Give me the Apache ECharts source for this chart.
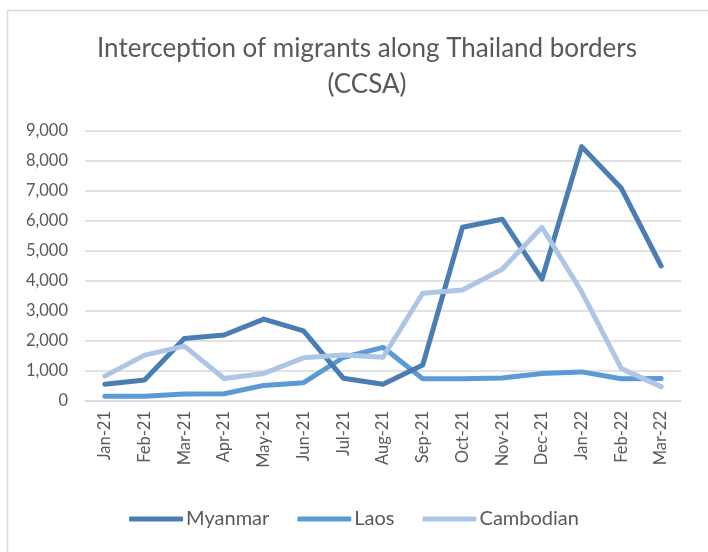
<!DOCTYPE html>
<html>
<head>
<meta charset="utf-8">
<script src="https://cdn.jsdelivr.net/npm/echarts@6/dist/echarts.min.js"></script>
<style>
html,body{margin:0;padding:0;background:#fff;}
#c{width:708px;height:552px;}
</style>
</head>
<body>
<div id="c"></div>
<script>
const categories = ['Jan-21','Feb-21','Mar-21','Apr-21','May-21','Jun-21','Jul-21','Aug-21','Sep-21','Oct-21','Nov-21','Dec-21','Jan-22','Feb-22','Mar-22'];
const myanmar   = [560, 700, 2080, 2200, 2730, 2340, 760, 560, 1200, 5790, 6060, 4060, 8480, 7090, 4500];
const laos      = [160, 160, 230, 240, 520, 610, 1450, 1790, 740, 740, 770, 920, 970, 740, 750];
const cambodian = [830, 1530, 1830, 750, 920, 1440, 1530, 1460, 3590, 3700, 4390, 5790, 3640, 1080, 480];
const yTicks = { min: 0, max: 9000, interval: 1000 };

const chart = echarts.init(document.getElementById('c'), null, {renderer:'canvas'});
const font = 'Lato, "Open Sans", sans-serif';
const txt = '#595959';
chart.setOption({
  animation: false,
  backgroundColor: '#fff',
  textStyle: { fontFamily: font },
  graphic: [{
    type: 'rect', silent: true, z: -1,
    shape: { x: 7.5, y: 10.5, width: 740, height: 600 },
    style: { fill: 'none', stroke: '#d9d9d9', lineWidth: 1.5 }
  }],
  title: {
    text: 'Interception of migrants along Thailand borders\n(CCSA)',
    left: 362, top: 26, textAlign: 'center',
    textStyle: { fontFamily: font, fontSize: 26, fontWeight: 'normal', color: txt, lineHeight: 36 }
  },
  grid: { left: 85, right: 27, top: 131, bottom: 151 },
  legend: {
    bottom: 18, left: 'center',
    itemWidth: 54, itemHeight: 5, itemGap: 28,
    icon: 'roundRect',
    textStyle: { fontFamily: font, fontSize: 20, color: txt, padding: [0,0,0,-2] },
    data: ['Myanmar','Laos','Cambodian']
  },
  xAxis: {
    type: 'category', data: categories, boundaryGap: true,
    axisLine: { lineStyle: { color: '#d9d9d9', width: 1.5 } },
    axisTick: { show: false },
    axisLabel: { rotate: 90, color: txt, fontSize: 16.5, margin: 10, fontFamily: font, interval: 0 }
  },
  yAxis: {
    type: 'value', min: yTicks.min, max: yTicks.max, interval: yTicks.interval,
    axisLine: { show: false }, axisTick: { show: false },
    splitLine: { lineStyle: { color: '#d9d9d9', width: 1.5 } },
    axisLabel: { color: txt, fontSize: 16.5, margin: 17, fontFamily: font,
      formatter: v => v.toLocaleString('en-US') }
  },
  series: [
    { name: 'Myanmar', type: 'line', data: myanmar, symbol: 'none', z: 3,
      lineStyle: { width: 5, color: '#4a7db1', cap: 'round', join: 'round' }, itemStyle: { color: '#4a7db1' } },
    { name: 'Laos', type: 'line', data: laos, symbol: 'none', z: 2,
      lineStyle: { width: 5, color: '#5b9bd5', cap: 'round', join: 'round' }, itemStyle: { color: '#5b9bd5' } },
    { name: 'Cambodian', type: 'line', data: cambodian, symbol: 'none', z: 4,
      lineStyle: { width: 5, color: '#adc6e5', cap: 'round', join: 'round' }, itemStyle: { color: '#adc6e5' } }
  ]
});
</script>
</body>
</html>
